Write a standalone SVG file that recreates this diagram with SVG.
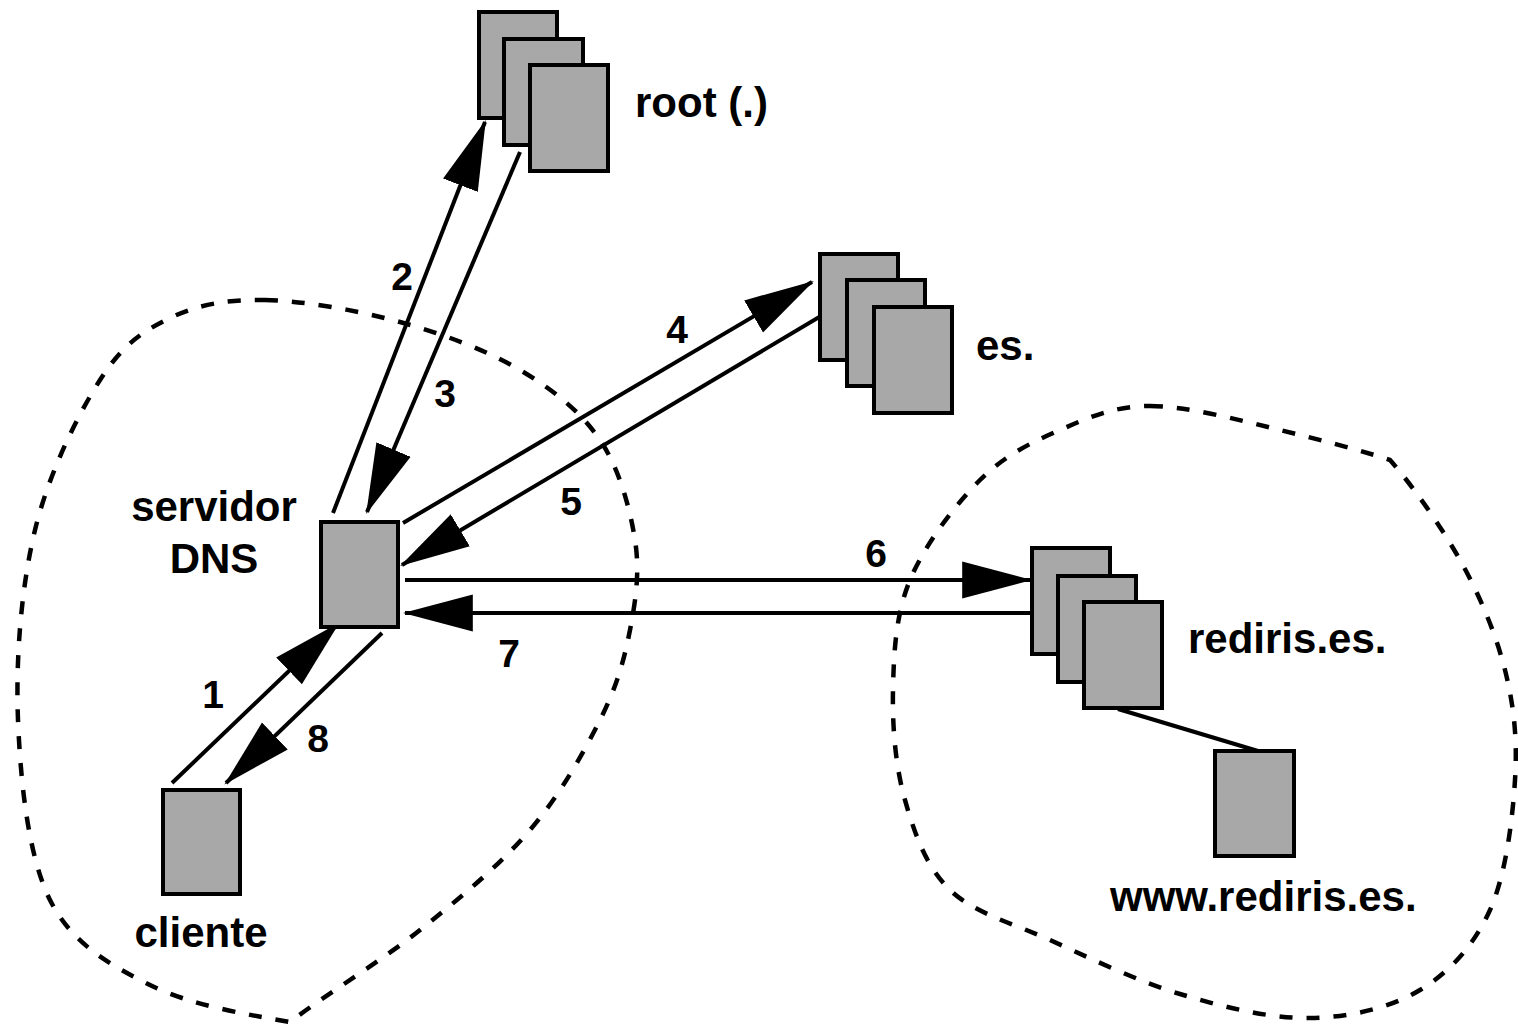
<svg xmlns="http://www.w3.org/2000/svg" width="1518" height="1028" viewBox="0 0 1518 1028">
  <style>
    .box { fill: #a8a8a8; stroke: #000; stroke-width: 4; }
    .link { fill: none; stroke: #000; stroke-width: 4; }
    .arrow { fill: none; stroke: #000; stroke-width: 4; marker-end: url(#head); }
    .zone { fill: none; stroke: #000; stroke-width: 4.5; stroke-dasharray: 13 14; }
    .lbl { font-family: "Liberation Sans", Arial, sans-serif; font-weight: bold; font-size: 42px; fill: #000; }
    .num { font-family: "Liberation Sans", Arial, sans-serif; font-weight: bold; font-size: 39px; fill: #000; text-anchor: middle; }
  </style>
  <defs>
    <marker id="head" markerUnits="userSpaceOnUse" markerWidth="70" markerHeight="40" viewBox="0 0 64 34" refX="62" refY="17" orient="auto">
      <path d="M0,0 L64,17 L0,34 z" fill="#000"/>
    </marker>
  </defs>

  <!-- dashed zones -->
  <g id="zones">
    <path class="zone" d="M265,300 C303.3,300.7 357.5,310.3 400,322 C442.5,333.7 486.7,350.3 520,370 C553.3,389.7 580.8,411.7 600,440 C619.2,468.3 630,508.3 635,540 C640,571.7 635.8,600 630,630 C624.2,660 616.7,686.7 600,720 C583.3,753.3 560,795 530,830 C500,865 460,898 420,930 C380,962 325,995 290,1022 C250,1015 190,1005.3 150,985 C110,964.7 72,944.2 50,900 C28,855.8 20.5,781.7 18,720 C15.5,658.3 21.3,586.7 35,530 C48.7,473.3 77.5,415.3 100,380 C122.5,344.7 142.5,331.3 170,318 C197.5,304.7 226.7,299.3 265,300 Z"/>
    <path class="zone" d="M1150,406 C1186.7,406 1240,420.2 1280,430 C1320,439.8 1360,450 1390,460 C1412,485 1440.8,525.8 1460,560 C1479.2,594.2 1495.8,633.3 1505,670 C1514.2,706.7 1517.5,740 1515,780 C1512.5,820 1505.8,875 1490,910 C1474.2,945 1450,972 1420,990 C1390,1008 1350,1017.3 1310,1018 C1270,1018.7 1223.3,1007 1180,994 C1136.7,981 1088.3,957.3 1050,940 C1011.7,922.7 974.2,913.3 950,890 C925.8,866.7 914.5,833.3 905,800 C895.5,766.7 892.2,726.7 893,690 C893.8,653.3 895.5,615 910,580 C924.5,545 955,505 980,480 C1005,455 1031.7,442.3 1060,430 C1088.3,417.7 1113.3,406 1150,406 Z"/>
  </g>

  <!-- connectors -->
  <g id="connectors">
    <line class="arrow" x1="172" y1="783" x2="338" y2="624"/>
    <line class="arrow" x1="333" y1="513" x2="485" y2="122"/>
    <line class="arrow" x1="520" y1="152" x2="367" y2="512"/>
    <line class="arrow" x1="403" y1="523" x2="812" y2="282"/>
    <line class="arrow" x1="826" y1="313" x2="402" y2="565"/>
    <line class="arrow" x1="405" y1="580" x2="1030" y2="580"/>
    <line class="arrow" x1="1037" y1="613" x2="405" y2="613"/>
    <line class="arrow" x1="382" y1="633" x2="226" y2="783"/>
    <line class="link" x1="1118" y1="709" x2="1258" y2="751"/>
  </g>

  <!-- root servers -->
  <g id="root">
    <rect class="box" x="479" y="12" width="78" height="106"/>
    <rect class="box" x="504" y="39" width="79" height="106"/>
    <rect class="box" x="530" y="65" width="78" height="106"/>
    <text class="lbl" x="635" y="117">root (.)</text>
  </g>

  <!-- es. servers -->
  <g id="es">
    <rect class="box" x="820" y="254" width="78" height="106"/>
    <rect class="box" x="847" y="280" width="78" height="106"/>
    <rect class="box" x="874" y="307" width="78" height="106"/>
    <text class="lbl" x="976" y="360">es.</text>
  </g>

  <!-- rediris.es. servers -->
  <g id="rediris">
    <rect class="box" x="1032" y="548" width="78" height="106"/>
    <rect class="box" x="1058" y="576" width="78" height="106"/>
    <rect class="box" x="1084" y="602" width="78" height="106"/>
    <text class="lbl" x="1188" y="653">rediris.es.</text>
  </g>

  <!-- web host -->
  <g id="www">
    <rect class="box" x="1215" y="751" width="79" height="105"/>
    <text class="lbl" x="1110" y="911">www.rediris.es.</text>
  </g>

  <!-- local resolver -->
  <g id="servidor">
    <rect class="box" x="321" y="522" width="77" height="105"/>
    <text class="lbl" x="214" y="521" text-anchor="middle">servidor</text>
    <text class="lbl" x="214" y="573" text-anchor="middle">DNS</text>
  </g>

  <!-- client host -->
  <g id="cliente">
    <rect class="box" x="163" y="790" width="77" height="104"/>
    <text class="lbl" x="201" y="947" text-anchor="middle">cliente</text>
  </g>

  <!-- step numbers -->
  <g id="steps">
    <text class="num" x="213" y="708">1</text>
    <text class="num" x="402" y="290">2</text>
    <text class="num" x="445" y="407">3</text>
    <text class="num" x="677" y="343">4</text>
    <text class="num" x="571" y="515">5</text>
    <text class="num" x="876" y="567">6</text>
    <text class="num" x="509" y="667">7</text>
    <text class="num" x="318" y="752">8</text>
  </g>
</svg>
